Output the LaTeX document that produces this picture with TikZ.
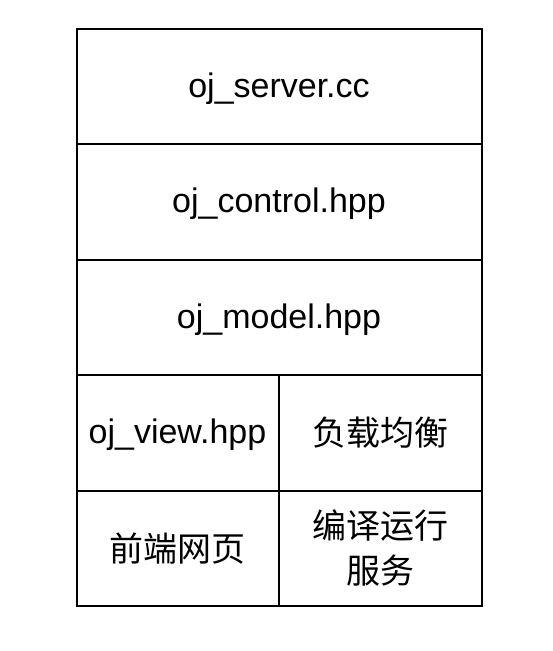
\documentclass[tikz,border=0pt]{standalone}
\usepackage{fontspec}
\setmainfont{Liberation Sans}
\newfontfamily\cjk{Noto Sans CJK SC}
\begin{document}
\begin{tikzpicture}[x=1pt,y=-1pt,
  cell/.style={draw=black,line width=2pt,fill=white,inner sep=0pt,anchor=north west},
  lbl/.style={font=\fontsize{34}{45}\selectfont,align=center,text=black},
  lat/.style={lbl,yshift=-2pt}]
\useasboundingbox (0,0) rectangle (553,651);
\node[cell,minimum width=405pt,minimum height=115.5pt] (r1) at (75.5,27.5) {};
\node[cell,minimum width=405pt,minimum height=115.5pt] (r2) at (75.5,143) {};
\node[cell,minimum width=405pt,minimum height=115.5pt] (r3) at (75.5,258.5) {};
\node[cell,minimum width=202pt,minimum height=115.5pt] (r4a) at (75.5,374) {};
\node[cell,minimum width=203pt,minimum height=115.5pt] (r4b) at (277.5,374) {};
\node[cell,minimum width=202pt,minimum height=115.5pt] (r5a) at (75.5,489.5) {};
\node[cell,minimum width=203pt,minimum height=115.5pt] (r5b) at (277.5,489.5) {};
\node[lat] (t1) at (r1.center) {oj\_server.cc};
\node[lat] (t2) at (r2.center) {oj\_control.hpp};
\node[lat] (t3) at (r3.center) {oj\_model.hpp};
\node[lat] (t4a) at (r4a.center) {oj\_view.hpp};
\node[lbl] (t4b) at (r4b.center) {\cjk 负载均衡};
\node[lbl] (t5a) at (r5a.center) {\cjk 前端网页};
\node[lbl] (t5b) at (r5b.center) {\cjk 编译运行\\\cjk 服务};
\end{tikzpicture}
\end{document}
